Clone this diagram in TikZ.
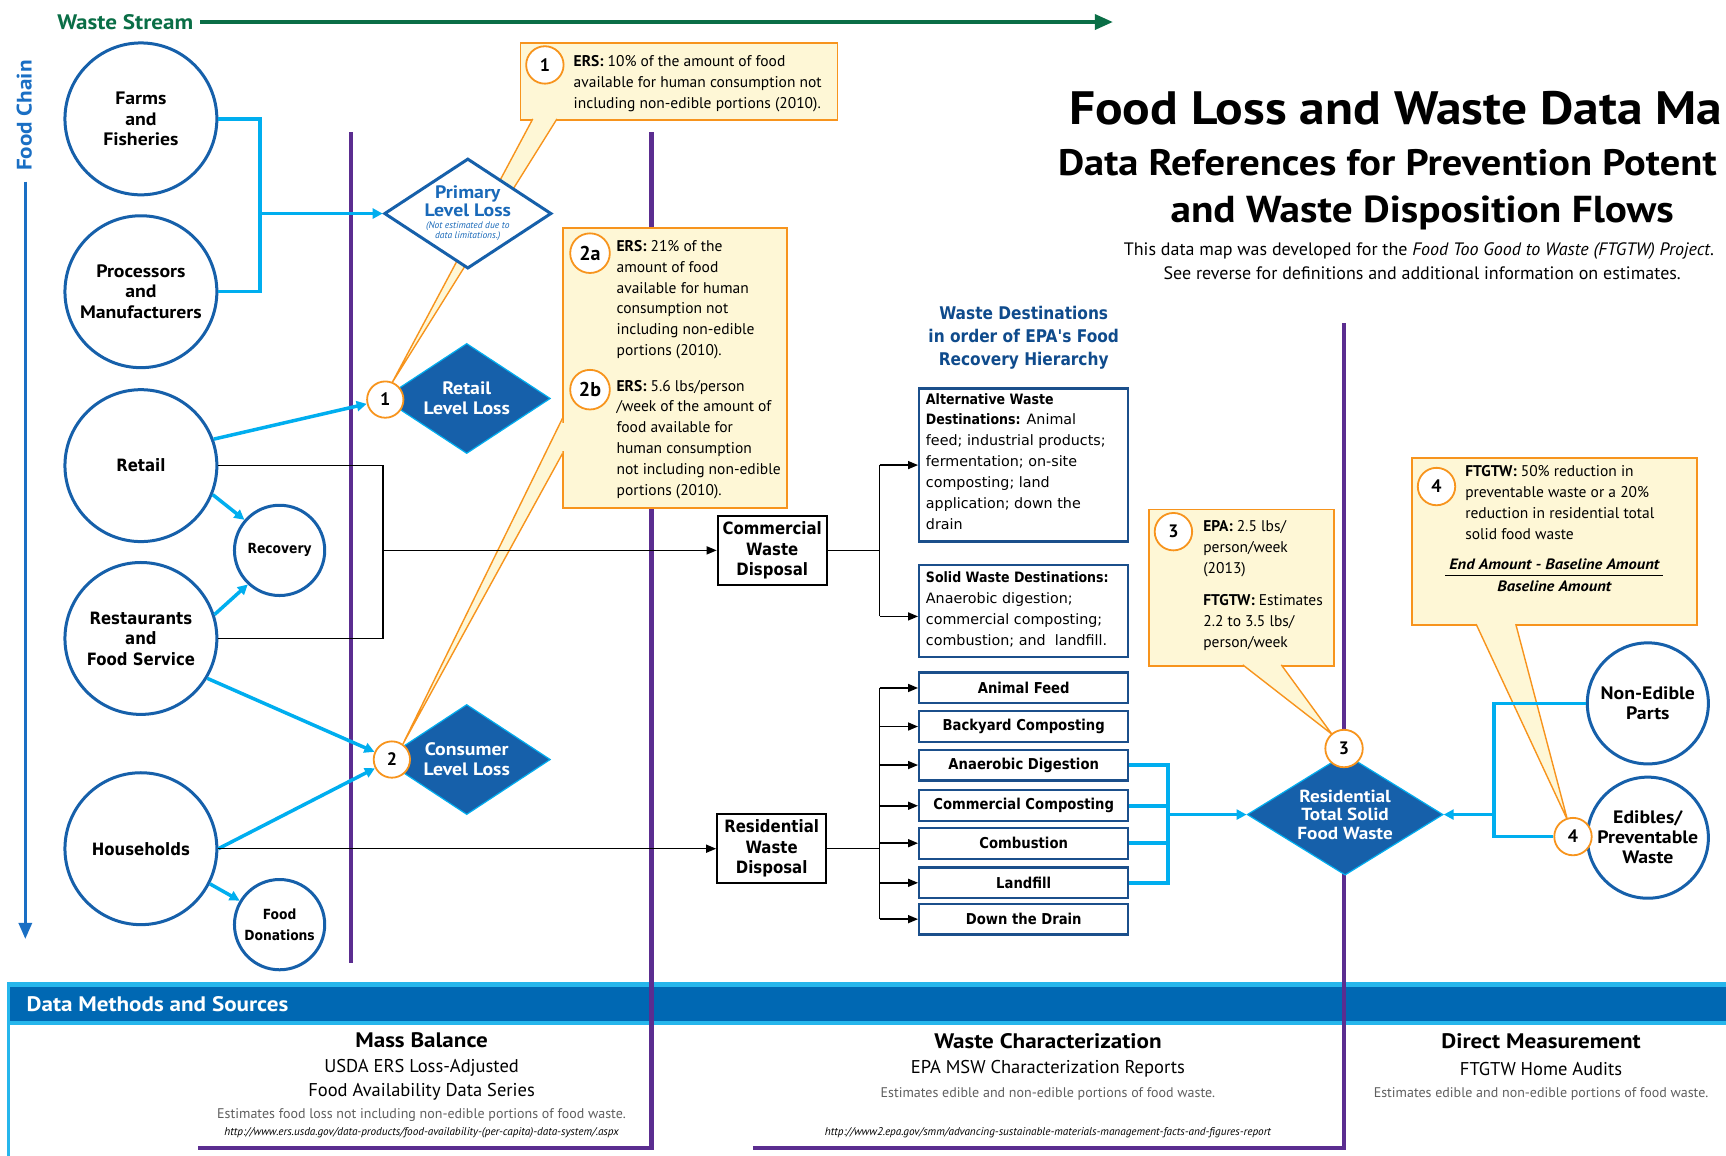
\documentclass[tikz,border=0pt]{standalone}
\usepackage{fontspec}
\setmainfont{PT Sans}
\newfontfamily\ptw[FakeStretch=1.1]{PT Sans}
\newfontfamily\dvs[BoldFeatures={FakeStretch=0.88}]{DejaVu Sans}
\usetikzlibrary{arrows.meta,shapes.geometric,calc}
\newcommand\pxu{1.1008pt}
\newcommand\fsz[2]{\fontsize{#1}{#2}\selectfont}
\definecolor{dblue}{RGB}{22,96,170}
\definecolor{lblue}{RGB}{0,174,239}
\definecolor{purp}{RGB}{91,45,144}
\definecolor{orng}{RGB}{247,148,29}
\definecolor{yel}{RGB}{254,247,214}
\definecolor{grn}{RGB}{10,110,70}
\definecolor{hblue}{RGB}{15,75,140}
\definecolor{band}{RGB}{0,104,179}
\definecolor{bandl}{RGB}{38,182,236}
\definecolor{boxb}{RGB}{27,79,139}
\definecolor{gtxt}{RGB}{95,95,95}
\definecolor{ptxt}{RGB}{25,105,185}
\definecolor{fcblue}{RGB}{26,111,196}
\begin{document}
\begin{tikzpicture}[x=1.1008pt, y=-1.1008pt,
  bigc/.style={circle, draw=dblue, line width=3pt, fill=white, inner sep=0pt, minimum size=138*\pxu, align=center, text=black},
  myr/.style={font=\ptw\bfseries\fsz{18}{20.5}},
  ver/.style={font=\dvs\bfseries\fsz{17}{20.5}},
  smallc/.style={circle, draw=dblue, line width=3pt, fill=white, inner sep=0pt, minimum size=82*\pxu, align=center, font=\dvs\bfseries\fsz{14}{21}},
  midc/.style={circle, draw=dblue, line width=3pt, fill=white, inner sep=0pt, minimum size=110*\pxu, align=center, font=\ptw\bfseries\fsz{18}{20}},
  outd/.style={diamond, aspect=1.52, draw=dblue, line width=3pt, fill=white, inner sep=0pt, minimum width=152*\pxu, minimum height=100*\pxu},
  filld/.style={diamond, aspect=1.52, draw=lblue, line width=1.2pt, fill=dblue, inner sep=0pt, minimum width=152*\pxu, minimum height=100*\pxu, text=white, align=center, font=\ptw\bfseries\fsz{18}{20}},
  numc/.style={circle, draw=orng, line width=1.8pt, fill=white, inner sep=0pt, minimum size=33*\pxu, font=\bfseries\fsz{18}{18}},
  callout/.style={rectangle, draw=orng, line width=1.8pt, fill=yel, inner sep=0pt, anchor=north west},
  ctext/.style={anchor=north west, inner sep=0pt, align=left, font=\fsz{15.5}{20.9}},
  oedge/.style={draw=orng, line width=1.4pt},
  lbar/.style={draw=lblue, line width=3.5pt},
  larr/.style={draw=lblue, line width=3.5pt, -{Triangle[length=10pt,width=10pt]}},
  bline/.style={draw=black, line width=1.5pt},
  barr/.style={draw=black, line width=1.5pt, -{Triangle[length=10pt,width=8pt]}},
  dispbox/.style={rectangle, draw=black, line width=2pt, fill=white, minimum width=99*\pxu, minimum height=63*\pxu, inner sep=0pt, align=center, font=\dvs\bfseries\fsz{17}{20.5}},
  destbox/.style={rectangle, draw=boxb, line width=2.2pt, fill=white, minimum width=190*\pxu, minimum height=28*\pxu, inner sep=0pt, font=\dvs\bfseries\fsz{15}{15}},
  infobox/.style={rectangle, draw=boxb, line width=2.2pt, fill=white, minimum width=190*\pxu, inner sep=0pt},
  itext/.style={anchor=north west, inner sep=0pt, align=left, font=\dvs\fsz{14.3}{20.9}},
  purpline/.style={draw=purp, line width=4.5pt},
  btitle/.style={font=\ptw\bfseries\fsz{21}{21}, inner sep=0pt},
  bsub/.style={font=\fsz{18.5}{18.5}, inner sep=0pt},
  bnote/.style={font=\fsz{14}{14}, text=gtxt, inner sep=0pt},
  burl/.style={font=\itshape\fsz{11.2}{11.2}, inner sep=0pt},
]
\useasboundingbox (0,0) rectangle (1568,1050);
\fill[white] (0,0) rectangle (1568,1050);
\begin{scope}
\clip (0,0) rectangle (1568,1050);

% ---------- bottom band ----------
\fill[bandl] (8,892) rectangle (1568,931);
\fill[band] (8,896.5) rectangle (1568,927.5);
\draw[bandl, line width=3pt] (8,892) -- (8,1050);
\node[anchor=west, inner sep=0pt, text=white, font=\ptw\bfseries\fsz{21}{21}] (dms) at (24,912) {Data Methods and Sources};

% ---------- purple lines ----------
\draw[purpline] (319,120) -- (319,875);
\draw[purpline] (180,1043) -- (592,1043) -- (592,120);
\draw[purpline] (684,1043) -- (1221,1043) -- (1221,293);

% ---------- bottom texts ----------
\node[btitle] (mb) at (383,945) {Mass Balance};
\node[bsub] (mb1) at (383,970) {USDA ERS Loss-Adjusted};
\node[bsub] (mb2) at (383,992) {Food Availability Data Series};
\node[bnote] (mb3) at (383,1013) {Estimates food loss not including non-edible portions of food waste.};
\node[burl] (mb4) at (383,1029) {http://www.ers.usda.gov/data-products/food-availability-(per-capita)-data-system/.aspx};
\node[btitle] (wc) at (952,946) {Waste Characterization};
\node[bsub] (wc1) at (952,971) {EPA MSW Characterization Reports};
\node[bnote] (wc2) at (952,994) {Estimates edible and non-edible portions of food waste.};
\node[burl] (wc3) at (952,1029) {http://www2.epa.gov/smm/advancing-sustainable-materials-management-facts-and-figures-report};
\node[btitle] (dm) at (1400,946) {Direct Measurement};
\node[bsub] (dm1) at (1400,971) {FTGTW Home Audits};
\node[bnote] (dm2) at (1400,994) {Estimates edible and non-edible portions of food waste.};

% ---------- titles ----------
\node[anchor=west, inner sep=0pt, font=\ptw\bfseries\fsz{46.8}{46.8}] (ti1) at (971,98) {Food Loss and Waste Data Ma};
\node[anchor=west, inner sep=0pt, font=\ptw\bfseries\fsz{36.8}{36.8}] (ti2) at (961,148) {Data References for Prevention Potent};
\node[inner sep=0pt, font=\ptw\bfseries\fsz{37.5}{37.5}] (ti3) at (1292,193) {and Waste Disposition Flows};
\node[inner sep=0pt, font=\fsz{18}{18}] (ti4) at (1289,228) {This data map was developed for the \textit{Food Too Good to Waste (FTGTW) Project}.};
\node[inner sep=0pt, font=\fsz{18}{18}] (ti5) at (1292,248) {See reverse for definitions and additional information on estimates.};

% ---------- waste stream / food chain ----------
\node[anchor=west, inner sep=0pt, text=grn, font=\ptw\bfseries\fsz{21}{21}] (ws) at (52,20) {Waste Stream};
\coordinate (wsend) at (1011,20);
\draw[grn, line width=3.5pt, -{Triangle[length=18pt,width=15pt]}] ([xshift=7pt]ws.east) -- (wsend);
\node[rotate=90, inner sep=0pt, text=fcblue, font=\ptw\bfseries\fsz{21}{21}] (fc) at (22,105) {Food Chain};
\coordinate (fcstart) at (23,165);
\coordinate (fcend) at (23,853);
\draw[fcblue, line width=3pt, -{Triangle[length=16pt,width=13pt]}] (fcstart) -- (fcend);

% ---------- callouts ----------
\node[callout, minimum width=288*\pxu, minimum height=70*\pxu] (cb1) at (472,38) {};
\node[callout, minimum width=203*\pxu, minimum height=255*\pxu] (cb2) at (511,206) {};
\node[callout, minimum width=168*\pxu, minimum height=142*\pxu] (cb3) at (1043,462) {};
\node[callout, minimum width=259*\pxu, minimum height=152*\pxu] (cb4) at (1282,415) {};

\coordinate (a1) at (356,348);
\coordinate (a2) at (366,676);
\coordinate (a3) at (1210,667);
\coordinate (a4) at (1424,745);
\fill[yel] (486,104.5) rectangle (504,110);
\fill[yel] (484,108) -- (506,108) -- (a1) -- cycle;
\draw[oedge] (484,108) -- (a1) -- (506,108);
\fill[yel] (509,384) rectangle (514,410);
\fill[yel] (511,380) -- (511,412) -- (a2) -- cycle;
\draw[oedge] (511,380) -- (a2) -- (511,412);
\fill[yel] (1132,600) rectangle (1162,606);
\fill[yel] (1129,604) -- (1164,604) -- (a3) -- cycle;
\draw[oedge] (1129,604) -- (a3) -- (1164,604);
\fill[yel] (1343,563) rectangle (1375,569);
\fill[yel] (1341,567) -- (1377,567) -- (a4) -- cycle;
\draw[oedge] (1341,567) -- (a4) -- (1377,567);

\node[numc, minimum size=34*\pxu] (n1) at (495,59) {1};
\node[ctext] (txt1) at (521,50) {\textbf{ERS:} 10\% of the amount of food\\available for human consumption not\\including non-edible portions (2010).};
\node[numc, minimum size=36*\pxu, font=\bfseries\fsz{20}{20}] (n2a) at (536,230) {2a};
\node[ctext] (txt2a) at (560,218) {\textbf{ERS:} 21\% of the\\amount of food\\available for human\\consumption not\\including non-edible\\portions (2010).};
\node[numc, minimum size=36*\pxu, font=\bfseries\fsz{20}{20}] (n2b) at (536,354) {2b};
\node[ctext] (txt2b) at (560,345) {\textbf{ERS:} 5.6 lbs/person\\/week of the amount of\\food available for\\human consumption\\not including non-edible\\portions (2010).};
\node[numc, minimum size=34*\pxu] (n3b) at (1066,483) {3};
\node[ctext] (txt3a) at (1093,473) {\textbf{EPA:} 2.5 lbs/\\person/week\\(2013)};
\node[ctext] (txt3b) at (1093,540) {\textbf{FTGTW:} Estimates\\2.2 to 3.5 lbs/\\person/week};
\node[numc, minimum size=34*\pxu] (n4b) at (1305,442) {4};
\node[ctext] (txt4) at (1331,423) {\textbf{FTGTW:} 50\% reduction in\\preventable waste or a 20\%\\reduction in residential total\\solid food waste};
\node[inner sep=0pt, font=\ptw\bfseries\itshape\fsz{15}{15}] (fnum) at (1412,513) {End Amount - Baseline Amount};
\node[inner sep=0pt, font=\ptw\bfseries\itshape\fsz{15}{15}] (fden) at (1412,533) {Baseline Amount};
\draw[line width=1.5pt] (1313,523) -- (1511,523);

% ---------- circles ----------
\node[bigc, myr] (farms) at (128,108) {Farms\\and\\Fisheries};
\node[bigc, myr] (proc) at (128,265) {Processors\\and\\Manufacturers};
\node[bigc, ver] (retail) at (128,423) {Retail};
\node[bigc, ver] (rest) at (128,580) {Restaurants\\and\\Food Service};
\node[bigc, ver] (house) at (128,771) {Households};
\node[smallc] (recov) at (254,500) {Recovery};
\node[smallc] (donat) at (254,840) {Food\\Donations};
\node[midc] (nonedible) at (1497,639) {Non-Edible\\Parts};
\node[midc] (edibles) at (1497,761) {Edibles/\\Preventable\\Waste};

% ---------- diamonds ----------
\node[outd] (primary) at (425,194) {};
\node[inner sep=0pt, align=center, text=ptxt, font=\ptw\bfseries\fsz{18}{18.5}] (primt) at (425,183) {Primary\\Level Loss};
\node[inner sep=0pt, align=center, text=ptxt, font=\itshape\fsz{9.5}{10.5}] (primn) at (425,210) {(Not estimated due to\\data limitations.)};
\node[filld] (retloss) at (424,362) {Retail\\Level Loss};
\node[filld] (conloss) at (424,690) {Consumer\\Level Loss};
\node[filld, aspect=1.62, minimum width=178*\pxu, minimum height=110*\pxu, font=\ptw\bfseries\fsz{17.5}{18.5}] (resid) at (1222,740) {Residential\\Total Solid\\Food Waste};

\node[numc] (c1) at (350,363) {1};
\node[numc] (c2) at (356,690) {2};
\node[numc, minimum size=34*\pxu] (c3) at (1221,680) {3};
\node[numc, minimum size=34*\pxu] (c4) at (1429,760) {4};

% ---------- destinations ----------
\node[align=center, inner sep=0pt, text=hblue, font=\dvs\bfseries\fsz{17.5}{23}] (wdh) at (930,307) {Waste Destinations\\in order of EPA's Food\\Recovery Hierarchy};
\node[infobox, minimum height=139*\pxu] (altbox) at (930,422.5) {};
\node[itext] (alttxt) at (841,357) {\textbf{Alternative Waste}\\\textbf{Destinations:} Animal\\feed; industrial products;\\fermentation; on-site\\composting; land\\application; down the\\drain};
\node[infobox, minimum height=84*\pxu] (solbox) at (930,555) {};
\node[itext] (soltxt) at (841,519) {\textbf{Solid Waste Destinations:}\\Anaerobic digestion;\\commercial composting;\\combustion; and\ \ landfill.};

\node[destbox] (afeed) at (930,625) {Animal Feed};
\node[destbox] (byard) at (930,660) {Backyard Composting};
\node[destbox] (anaer) at (930,695) {Anaerobic Digestion};
\node[destbox] (ccomp) at (930,732) {Commercial Composting};
\node[destbox] (comb) at (930,766) {Combustion};
\node[destbox] (landf) at (930,802) {Landfill};
\node[destbox] (drain) at (930,835) {Down the Drain};

\node[dispbox] (commdisp) at (701.5,500) {Commercial\\Waste\\Disposal};
\node[dispbox] (resdisp) at (701,771) {Residential\\Waste\\Disposal};

% ---------- light blue connectors ----------
\coordinate (fb1) at (236,108);
\coordinate (fb2) at (236,265);
\coordinate (fbm) at (236,194);
\draw[lbar] (farms.east) -- (fb1) -- (fb2) -- (proc.east);
\draw[larr] (fbm) -- (primary.west);
\draw[larr] (retail.20) -- (c1);
\draw[larr] (retail.-22) -- (recov.139);
\draw[larr] (rest.18) -- (recov.227);
\draw[larr] (rest.-31) -- (c2);
\draw[larr] (house.east) -- (c2);
\draw[larr] (house.-27) -- (donat.149);

\coordinate (lj) at (1061,740);
\draw[lbar] (anaer.east) -- (anaer.east -| lj) -- (landf.east -| lj) -- (landf.east);
\draw[lbar] (ccomp.east) -- (ccomp.east -| lj);
\draw[lbar] (comb.east) -- (comb.east -| lj);
\draw[larr] (lj) -- (resid.west);

\coordinate (rjx) at (1357,740);
\draw[lbar] (nonedible.west) -- (nonedible.west -| rjx) -- (c4.west -| rjx) -- (c4.west);
\draw[larr] (rjx) -- (resid.east);

% ---------- black connectors ----------
\coordinate (bj1) at (348,423);
\coordinate (bj2) at (348,580);
\coordinate (bjm) at (348,500);
\draw[bline] (retail.east) -- (bj1) -- (bj2) -- (rest.east);
\draw[barr] (bjm) -- (commdisp.west);
\draw[barr] (house.east) -- (resdisp.west);

\coordinate (cj) at (799,500);
\coordinate (cjt) at (799,422.5);
\coordinate (cjb) at (799,560);
\draw[bline] (commdisp.east) -- (cj);
\draw[bline] (cjt) -- (cjb);
\draw[barr] (cjt) -- (altbox.west);
\draw[barr] (cjb) -- (cjb -| solbox.west);

\coordinate (rj) at (799,771);
\draw[bline] (resdisp.east) -- (rj);
\draw[bline] (afeed.west -| rj) -- (drain.west -| rj);
\foreach \n in {afeed,byard,anaer,ccomp,comb,landf,drain}
  \draw[barr] (\n.west -| rj) -- (\n.west);
\end{scope}
\end{tikzpicture}
\end{document}
